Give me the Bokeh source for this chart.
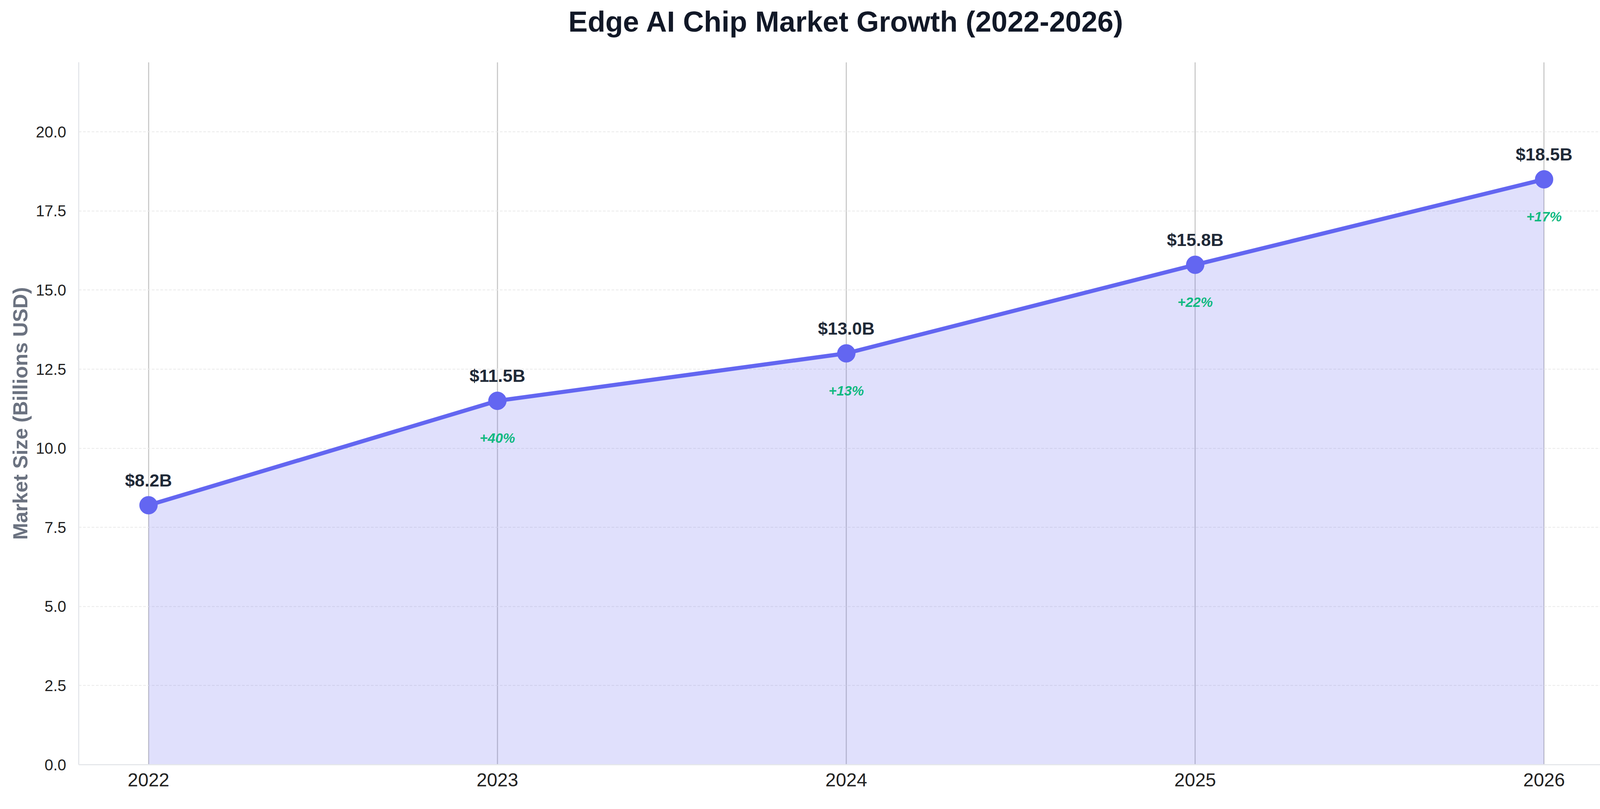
from bokeh.plotting import figure
from bokeh.models import ColumnDataSource, FixedTicker, SingleIntervalTicker, NumeralTickFormatter, Range1d, Title
from bokeh.core.properties import value
from bokeh.embed import file_html
from bokeh.resources import INLINE

years = [2022, 2023, 2024, 2025, 2026]
market_size = [8.2, 11.5, 13.0, 15.8, 18.5]
value_labels = ["$8.2B", "$11.5B", "$13.0B", "$15.8B", "$18.5B"]
growth_years = [2023, 2024, 2025, 2026]
growth_values = [11.5, 13.0, 15.8, 18.5]
growth_labels = ["+40%", "+13%", "+22%", "+17%"]

TITLE = "Edge AI Chip Market Growth (2022-2026)"
FONT = "Liberation Sans"
LINE_COLOR = "#6366f1"

src = ColumnDataSource(data=dict(x=years, y=market_size, label=value_labels))
growth_src = ColumnDataSource(data=dict(x=growth_years, y=growth_values, label=growth_labels))


def create_figure():
    p = figure(
        width=4150,
        height=2056,
        x_range=Range1d(2021.8, 2026.2),
        y_range=Range1d(0, 22.2),
        output_backend="svg",
        toolbar_location=None,
        tools="",
        title=None,
        min_border_left=201,
        min_border_right=19,
        min_border_top=159,
        min_border_bottom=98,
    )
    p.background_fill_color = "white"
    p.border_fill_color = "white"
    p.outline_line_color = None
    return p


def add_title(p):
    # an empty title first pushes the real one up, away from the plot
    spacer = Title(text=" ", text_font_size="1px", standoff=55)
    p.add_layout(spacer, "above")
    title = Title(
        text=TITLE, align="center", standoff=10,
        text_font=FONT, text_font_size="74px", text_font_style="bold",
        text_color="#111827",
    )
    p.add_layout(title, "above")


def style_axes(p):
    p.xaxis.ticker = FixedTicker(ticks=years)
    p.yaxis.ticker = SingleIntervalTicker(interval=2.5, num_minor_ticks=0)
    p.yaxis.formatter = NumeralTickFormatter(format="0.0")

    for ax in (p.xaxis, p.yaxis):
        ax.axis_line_color = "#e5e7eb"
        ax.axis_line_width = 3
        ax.major_tick_line_color = None
        ax.minor_tick_line_color = None
        ax.major_tick_out = 0
        ax.major_tick_in = 0
        ax.major_label_text_font = FONT
        ax.major_label_text_color = "#222222"

    p.xaxis.major_label_text_font_size = "48px"
    p.xaxis.major_label_standoff = 22
    p.yaxis.major_label_text_font_size = "40px"
    p.yaxis.major_label_standoff = 32

    p.yaxis.axis_label = "Market Size (Billions USD)"
    p.yaxis.axis_label_text_font = FONT
    p.yaxis.axis_label_text_font_size = "52px"
    p.yaxis.axis_label_text_font_style = "bold"
    p.yaxis.axis_label_text_color = "#6b7280"
    p.yaxis.axis_label_standoff = 8

    p.xgrid.grid_line_color = "#cccccc"
    p.xgrid.grid_line_width = 3
    p.ygrid.grid_line_color = "#e9e9e9"
    p.ygrid.grid_line_width = 2
    p.ygrid.grid_line_dash = "7 4"


def add_glyphs(p):
    p.varea(x=years, y1=[0] * len(years), y2=market_size, fill_color=LINE_COLOR, fill_alpha=0.2)
    p.line("x", "y", source=src, line_color=LINE_COLOR, line_width=10.5)
    p.scatter("x", "y", source=src, size=46, fill_color=LINE_COLOR, line_color=LINE_COLOR)

    # value labels above each point, growth below
    p.text(
        "x", "y", text="label", source=src,
        text_font=value(FONT),
        text_align="center", text_baseline="middle",
        y_offset=-64, text_font_size="45px", text_font_style="bold",
        text_color="#1f2937",
    )
    p.text(
        "x", "y", text="label", source=growth_src,
        text_font=value(FONT),
        text_align="center", text_baseline="middle",
        y_offset=95, text_font_size="35px", text_font_style="bold italic",
        text_color="#10b981",
    )


p = create_figure()
add_title(p)
style_axes(p)
add_glyphs(p)

open("out.html", "w").write(file_html(p, INLINE))
